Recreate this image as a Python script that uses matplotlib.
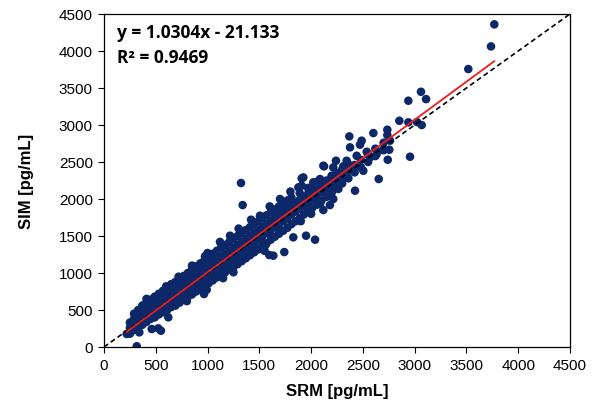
import matplotlib
matplotlib.use("Agg")
import matplotlib.pyplot as plt

# ---- data ----
# dense band: each SRM value with the SIM values read at that position
band_srm = [250, 290, 330, 370, 410, 450, 490, 530, 570, 610, 650, 690, 730, 770,
            810, 850, 890, 930, 970, 1010, 1050, 1090, 1130, 1170, 1210, 1250,
            1290, 1330, 1370, 1410, 1450, 1490, 1530, 1570, 1610, 1650, 1690,
            1730, 1770, 1810, 1850, 1890, 1930, 1970, 2010, 2050, 2100, 2150,
            2200, 2250, 2300, 2360, 2420, 2480, 2550, 2620, 2700]
band_sim = [[180, 260, 330],
            [230, 300, 380, 450],
            [260, 350, 430, 500],
            [300, 390, 470, 560],
            [340, 420, 520, 600, 650],
            [380, 460, 560, 640],
            [400, 500, 590, 680, 520],
            [440, 530, 620, 720],
            [470, 560, 660, 760, 600],
            [500, 600, 700, 800],
            [540, 640, 740, 850, 600],
            [560, 680, 780, 880, 640],
            [600, 700, 820, 920],
            [640, 750, 860, 960, 700],
            [680, 790, 900, 1000, 740],
            [710, 830, 940, 1050, 780],
            [750, 870, 980, 1090, 820],
            [790, 910, 1020, 1130, 860],
            [820, 940, 1060, 1170, 900],
            [860, 990, 1100, 1210, 930],
            [900, 1030, 1140, 1260, 970],
            [940, 1060, 1180, 1300, 1010],
            [980, 1100, 1220, 1340, 1050],
            [1010, 1140, 1260, 1380, 1090],
            [1050, 1180, 1300, 1420, 1120],
            [1080, 1220, 1340, 1460, 1160],
            [1120, 1260, 1380, 1500, 1200],
            [1160, 1300, 1420, 1540, 1230],
            [1200, 1340, 1460, 1580, 1270],
            [1240, 1380, 1500, 1620, 1310],
            [1280, 1420, 1540, 1660, 1350],
            [1320, 1460, 1580, 1700],
            [1360, 1500, 1620, 1740, 1420],
            [1400, 1540, 1660, 1780],
            [1450, 1580, 1700, 1820, 1500],
            [1490, 1620, 1740, 1860],
            [1530, 1660, 1790, 1900, 1580],
            [1570, 1700, 1830, 1940],
            [1610, 1740, 1870, 1980],
            [1660, 1790, 1910, 2020],
            [1700, 1830, 1950],
            [1740, 1870, 1990, 2080],
            [1790, 1910, 2030],
            [1830, 1950, 2070, 2150],
            [1880, 2000, 2110],
            [1920, 2040, 2150, 2230],
            [1980, 2090, 2200],
            [2030, 2140, 2250],
            [2090, 2200, 2310],
            [2160, 2260, 2350],
            [2210, 2310, 2400],
            [2280, 2380, 2470],
            [2360, 2460],
            [2430, 2530],
            [2500, 2600],
            [2580, 2680],
            [2660, 2760]]

# points on the ragged edges of the band
edge_srm = [600, 720, 850, 1000, 1120, 1217, 1300, 1420, 1506, 1600, 1700, 1800,
            800, 1150, 1250, 1550, 1900, 2000]
edge_sim = [820, 950, 1100, 1270, 1420, 1504, 1600, 1720, 1774, 1900, 2000, 2100,
            620, 930, 1010, 1300, 1700, 1800]

outlier_srm = [3769, 3737, 3518, 3061, 3110, 3068, 2939, 2852, 2939, 3023, 2955,
               2740, 2653, 2424, 2601, 2736, 2736, 2369, 2488, 2472, 2376, 2762,
               2755, 2697, 2633, 2569, 2537, 2440, 2343, 2240, 2125, 2214, 2311,
               2408, 2504, 2279, 2199, 2086, 2021, 1925, 1909, 1989, 2182, 2295,
               2263, 2214, 2038, 1957, 2086, 2182, 1323, 1339, 2118, 1909, 1877,
               2118, 2038, 1951, 1828, 1741, 1635, 1596, 1555, 975, 1056, 1458,
               316, 461, 524, 550, 341, 219, 621, 589, 966, 992]
outlier_sim = [4360, 4062, 3756, 3449, 3350, 2999, 3328, 3057, 3036, 3040, 2571,
               2530, 2270, 2112, 2891, 2936, 2864, 2846, 2788, 2734, 2698, 2788,
               2666, 2666, 2607, 2562, 2638, 2584, 2517, 2517, 2441, 2427, 2441,
               2441, 2382, 2359, 2314, 2270, 2225, 2292, 2179, 2135, 2179, 2225,
               2135, 2000, 2022, 2000, 1932, 1918, 2216, 1918, 2450, 2279, 2157,
               1851, 1450, 1504, 1482, 1283, 1234, 1243, 1369, 1225, 1225, 1369,
               10, 243, 252, 220, 198, 176, 401, 761, 716, 774]

slope = 1.0304
intercept = -21.133
r2 = 0.9469
fit_range = [219, 3769]
axis_ticks = [0, 500, 1000, 1500, 2000, 2500, 3000, 3500, 4000, 4500]

# ---- figure ----
W, H = 593, 410
fig = plt.figure(figsize=(W / 100, H / 100), dpi=100)
ax = fig.add_axes([104 / W, 1 - 348 / H, (570 - 104) / W, (348 - 15) / H])

dot = "#0c2868"
bx, by = [], []
for xv, ys in zip(band_srm, band_sim):
    for yv in ys:
        bx.append(xv)
        by.append(yv)
ax.scatter(bx, by, s=38, color=dot, edgecolors="none", zorder=2)
ax.scatter(edge_srm, edge_sim, s=38, color=dot, edgecolors="none", zorder=2)
ax.scatter(outlier_srm, outlier_sim, s=38, color=dot, edgecolors="none", zorder=2)

ax.plot([0, 4500], [0, 4500], color="black", lw=1.2, ls=(0, (3, 2)), zorder=3)
fx = fit_range
fy = [slope * v + intercept for v in fx]
ax.plot(fx, fy, color="#ee1c1c", lw=1.3, zorder=4)

ax.set_xlim(0, 4500)
ax.set_ylim(0, 4500)
ax.set_xticks(axis_ticks)
ax.set_yticks(axis_ticks)
ax.set_xticklabels([str(t) for t in axis_ticks], family="Liberation Sans", fontsize=11)
ax.set_yticklabels([str(t) for t in axis_ticks], family="Liberation Sans", fontsize=11)
ax.tick_params(direction="out", length=4, width=0.8, pad=4)
for s in ax.spines.values():
    s.set_linewidth(0.9)
    s.set_color("black")

ax.set_xlabel("SRM [pg/mL]", family="Liberation Sans", fontweight="bold", fontsize=12, labelpad=8)
ax.set_ylabel("SIM [pg/mL]", family="Liberation Sans", fontweight="bold", fontsize=12, labelpad=18)

ax.text(0.028, 0.945, f"y = {slope}x - {abs(intercept)}", transform=ax.transAxes,
        family="Open Sans", fontweight="bold", fontsize=12.5, va="center", ha="left")
ax.text(0.028, 0.872, f"R² = {r2}", transform=ax.transAxes,
        family="Open Sans", fontweight="bold", fontsize=12.5, va="center", ha="left")

fig.savefig("out.png", dpi=100, facecolor="white")
